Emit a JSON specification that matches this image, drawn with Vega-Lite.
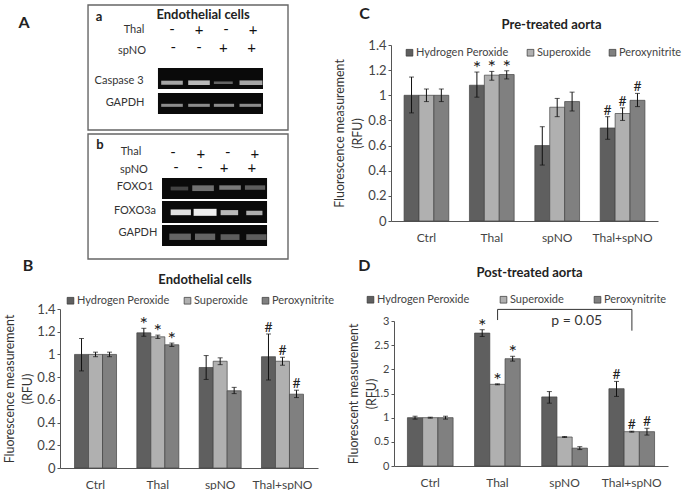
{
"$schema":"https://vega.github.io/schema/vega-lite/v6.json",
"padding":{"left":3,"top":4,"right":0,"bottom":0},
"background":"white",
"config":{"font":"Lato","view":{"stroke":null},"axis":{"labelColor":"#444","titleColor":"#333","domainColor":"#555","tickColor":"#555","grid":false,"titleFontWeight":"normal","labelOverlap":false},"legend":{"labelColor":"#444"},"title":{"color":"#222","fontWeight":"bold","fontSize":13},"text":{"font":"Lato"}},
"datasets":{
"B":[
{"group":"Ctrl","series":"Hydrogen Peroxide","value":1.0,"low":0.855,"high":1.14,"sig":""},
{"group":"Ctrl","series":"Superoxide","value":1.0,"low":0.98,"high":1.02,"sig":""},
{"group":"Ctrl","series":"Peroxynitrite","value":1.0,"low":0.98,"high":1.02,"sig":""},
{"group":"Thal","series":"Hydrogen Peroxide","value":1.19,"low":1.16,"high":1.23,"sig":"*"},
{"group":"Thal","series":"Superoxide","value":1.155,"low":1.14,"high":1.17,"sig":"*"},
{"group":"Thal","series":"Peroxynitrite","value":1.085,"low":1.07,"high":1.10,"sig":"*"},
{"group":"spNO","series":"Hydrogen Peroxide","value":0.885,"low":0.78,"high":0.99,"sig":""},
{"group":"spNO","series":"Superoxide","value":0.94,"low":0.91,"high":0.97,"sig":""},
{"group":"spNO","series":"Peroxynitrite","value":0.68,"low":0.655,"high":0.71,"sig":""},
{"group":"Thal+spNO","series":"Hydrogen Peroxide","value":0.98,"low":0.775,"high":1.18,"sig":"#"},
{"group":"Thal+spNO","series":"Superoxide","value":0.94,"low":0.905,"high":0.975,"sig":"#"},
{"group":"Thal+spNO","series":"Peroxynitrite","value":0.65,"low":0.62,"high":0.685,"sig":"#"}],
"C":[
{"group":"Ctrl","series":"Hydrogen Peroxide","value":1.0,"low":0.86,"high":1.145,"sig":""},
{"group":"Ctrl","series":"Superoxide","value":1.0,"low":0.95,"high":1.05,"sig":""},
{"group":"Ctrl","series":"Peroxynitrite","value":1.0,"low":0.95,"high":1.05,"sig":""},
{"group":"Thal","series":"Hydrogen Peroxide","value":1.08,"low":0.985,"high":1.185,"sig":"*"},
{"group":"Thal","series":"Superoxide","value":1.16,"low":1.12,"high":1.19,"sig":"*"},
{"group":"Thal","series":"Peroxynitrite","value":1.165,"low":1.13,"high":1.195,"sig":"*"},
{"group":"spNO","series":"Hydrogen Peroxide","value":0.6,"low":0.445,"high":0.75,"sig":""},
{"group":"spNO","series":"Superoxide","value":0.905,"low":0.83,"high":0.975,"sig":""},
{"group":"spNO","series":"Peroxynitrite","value":0.95,"low":0.875,"high":1.025,"sig":""},
{"group":"Thal+spNO","series":"Hydrogen Peroxide","value":0.74,"low":0.65,"high":0.83,"sig":"#"},
{"group":"Thal+spNO","series":"Superoxide","value":0.855,"low":0.80,"high":0.90,"sig":"#"},
{"group":"Thal+spNO","series":"Peroxynitrite","value":0.96,"low":0.91,"high":1.015,"sig":"#"}],
"D":[
{"group":"Ctrl","series":"Hydrogen Peroxide","value":1.0,"low":0.97,"high":1.03,"sig":""},
{"group":"Ctrl","series":"Superoxide","value":1.0,"low":0.99,"high":1.01,"sig":""},
{"group":"Ctrl","series":"Peroxynitrite","value":1.0,"low":0.97,"high":1.03,"sig":""},
{"group":"Thal","series":"Hydrogen Peroxide","value":2.75,"low":2.68,"high":2.82,"sig":"*"},
{"group":"Thal","series":"Superoxide","value":1.69,"low":1.68,"high":1.70,"sig":"*"},
{"group":"Thal","series":"Peroxynitrite","value":2.22,"low":2.17,"high":2.27,"sig":"*"},
{"group":"spNO","series":"Hydrogen Peroxide","value":1.43,"low":1.3,"high":1.54,"sig":""},
{"group":"spNO","series":"Superoxide","value":0.6,"low":0.59,"high":0.61,"sig":""},
{"group":"spNO","series":"Peroxynitrite","value":0.37,"low":0.34,"high":0.4,"sig":""},
{"group":"Thal+spNO","series":"Hydrogen Peroxide","value":1.6,"low":1.44,"high":1.75,"sig":"#"},
{"group":"Thal+spNO","series":"Superoxide","value":0.71,"low":0.70,"high":0.72,"sig":"#"},
{"group":"Thal+spNO","series":"Peroxynitrite","value":0.71,"low":0.64,"high":0.78,"sig":"#"}],
"boxes":[{"l0":-2.11,"l1":5.296,"r0":0,"r1":9.84},{"l0":-2.11,"l1":5.296,"r0":10.16,"r1":20}],
"gels":[
{"l0":0.48,"l1":4.37,"r0":4.96,"r1":6.61},
{"l0":0.48,"l1":4.37,"r0":6.93,"r1":8.58},
{"l0":0.63,"l1":4.52,"r0":13.62,"r1":15.28},
{"l0":0.63,"l1":4.52,"r0":15.43,"r1":17.17},
{"l0":0.63,"l1":4.52,"r0":17.32,"r1":18.98}],
"bands":[
{"l0":0.6,"l1":1.4,"r0":5.96,"r1":6.28,"v":0.72},
{"l0":1.6,"l1":2.4,"r0":5.94,"r1":6.3,"v":0.8},
{"l0":2.55,"l1":3.25,"r0":6.02,"r1":6.22,"v":0.45},
{"l0":3.5,"l1":4.35,"r0":5.94,"r1":6.3,"v":0.72},
{"l0":0.6,"l1":1.4,"r0":7.78,"r1":8.02,"v":0.62},
{"l0":1.6,"l1":2.4,"r0":7.78,"r1":8.02,"v":0.62},
{"l0":2.55,"l1":3.3,"r0":7.78,"r1":8.02,"v":0.62},
{"l0":3.5,"l1":4.3,"r0":7.78,"r1":8.02,"v":0.62},
{"l0":0.95,"l1":1.6,"r0":14.3,"r1":14.6,"v":0.3},
{"l0":1.75,"l1":2.55,"r0":14.2,"r1":14.65,"v":0.5},
{"l0":2.75,"l1":3.55,"r0":14.2,"r1":14.55,"v":0.55},
{"l0":3.7,"l1":4.45,"r0":14.2,"r1":14.55,"v":0.42},
{"l0":0.95,"l1":1.7,"r0":16.1,"r1":16.55,"v":0.95},
{"l0":1.8,"l1":2.65,"r0":16.05,"r1":16.6,"v":1.0},
{"l0":2.8,"l1":3.45,"r0":16.15,"r1":16.55,"v":0.8},
{"l0":3.75,"l1":4.35,"r0":16.2,"r1":16.55,"v":0.75},
{"l0":0.9,"l1":1.7,"r0":18.0,"r1":18.5,"v":0.45},
{"l0":1.85,"l1":2.6,"r0":18.0,"r1":18.5,"v":0.45},
{"l0":2.8,"l1":3.5,"r0":18.05,"r1":18.5,"v":0.42},
{"l0":3.75,"l1":4.5,"r0":18.05,"r1":18.5,"v":0.42}],
"labels":[
{"t":"Thal","l":-0.41,"r":1.97},{"t":"spNO","l":-0.48,"r":3.62},
{"t":"Caspase 3","l":-0.96,"r":5.98},{"t":"GAPDH","l":-0.74,"r":7.72},
{"t":"Thal","l":-0.52,"r":11.57},{"t":"spNO","l":-0.41,"r":12.99},
{"t":"FOXO1","l":-0.37,"r":14.33},{"t":"FOXO3a","l":-0.37,"r":16.22},{"t":"GAPDH","l":-0.26,"r":17.95}],
"signs":[
{"t":"-","l":1,"r":1.9},{"t":"+","l":2,"r":2},{"t":"-","l":3,"r":1.9},{"t":"+","l":4,"r":2},
{"t":"-","l":1.05,"r":3.3},{"t":"-","l":2,"r":3.3},{"t":"+","l":2.9,"r":3.35},{"t":"+","l":3.95,"r":3.35},
{"t":"-","l":1.04,"r":11.6},{"t":"+","l":2.07,"r":11.7},{"t":"-","l":3.07,"r":11.6},{"t":"+","l":4.07,"r":11.7},
{"t":"-","l":1.15,"r":12.76},{"t":"-","l":2.04,"r":12.76},{"t":"+","l":2.93,"r":12.8},{"t":"+","l":3.96,"r":12.8}],
"heads":[
{"t":"a","l":-1.7,"r":0.94},{"t":"b","l":-1.67,"r":11.02},{"t":"Endothelial cells","l":2.15,"r":0.79}],
"letters":[{"t":"A","l":-4.48,"r":1.42},{"t":"B","l":-4.33,"r":20.55}],
"bracket":[
{"group":"Thal","y":3.02,"i":1},{"group":"Thal","y":3.24,"i":2},{"group":"Thal+spNO","y":3.24,"i":3},{"group":"Thal+spNO","y":2.8,"i":4}]
},
"bounds":"full",
"spacing":-2,
"resolve":{"scale":{"color":"independent","xOffset":"independent"},"legend":{"color":"independent"}},
"hconcat":[
{"bounds":"flush","spacing":50,
"resolve":{"scale":{"color":"independent","xOffset":"independent"},"legend":{"color":"independent"}},
"vconcat":[
 {"width":258,"height":214,
  "encoding":{
   "x":{"field":"l0","type":"quantitative","scale":{"domain":[-3.148,6.407],"nice":false,"zero":false},"axis":null},
   "y":{"field":"r0","type":"quantitative","scale":{"domain":[3.15,20],"reverse":true,"nice":false,"zero":false},"axis":null}},
  "layer":[
   {"data":{"name":"boxes"},"mark":{"type":"rect","fill":"white","stroke":"#666","strokeWidth":1.4},"encoding":{"x2":{"field":"l1"},"y2":{"field":"r1"}}},
   {"data":{"name":"gels"},"mark":{"type":"rect","fill":"#0a0a0a"},"encoding":{"x2":{"field":"l1"},"y2":{"field":"r1"}}},
   {"data":{"name":"bands"},"mark":{"type":"rect"},"encoding":{"x2":{"field":"l1"},"y2":{"field":"r1"},"color":{"field":"v","type":"quantitative","scale":{"domain":[0,1],"range":["#000000","#eeeeee"]},"legend":null}}},
   {"data":{"name":"labels"},"mark":{"type":"text","fontSize":11,"color":"#333"},"encoding":{"x":{"field":"l","type":"quantitative","axis":null},"y":{"field":"r","type":"quantitative","axis":null},"text":{"field":"t"}}},
   {"data":{"name":"signs"},"mark":{"type":"text","fontSize":15,"color":"#111"},"encoding":{"x":{"field":"l","type":"quantitative","axis":null},"y":{"field":"r","type":"quantitative","axis":null},"text":{"field":"t"}}},
   {"data":{"name":"heads"},"mark":{"type":"text","fontSize":13,"fontWeight":"bold","color":"#222"},"encoding":{"x":{"field":"l","type":"quantitative","axis":null},"y":{"field":"r","type":"quantitative","axis":null},"text":{"field":"t"}}},
   {"data":{"name":"letters"},"mark":{"type":"text","fontSize":16,"fontWeight":"bold","color":"#222"},"encoding":{"x":{"field":"l","type":"quantitative","axis":null},"y":{"field":"r","type":"quantitative","axis":null},"text":{"field":"t"}}}
  ]},
 {"width":258,"height":159,"data":{"name":"B"},
  "title":{"text":"Endothelial cells","anchor":"middle","dx":16,"offset":8},
  "encoding":{
   "x":{"field":"group","type":"nominal","sort":null,"scale":{"domain":["Ctrl","Thal","spNO","Thal+spNO"],"paddingInner":0.326,"paddingOuter":0.233},"axis":{"title":null,"labelAngle":0,"labelFontSize":12,"ticks":false,"labelPadding":11}},
   "xOffset":{"field":"series","type":"nominal","sort":null,"scale":{"domain":["Hydrogen Peroxide","Superoxide","Peroxynitrite"],"paddingInner":0,"paddingOuter":0}}},
  "layer":[
   {"mark":{"type":"bar","stroke":"#444","strokeWidth":0.7},"encoding":{
    "y":{"field":"value","type":"quantitative","scale":{"domain":[0,1.4],"nice":false},"axis":{"values":[0,0.2,0.4,0.6,0.8,1,1.2,1.4],"labelOverlap":false,"format":"~g","title":["Fluorescence measurement","(RFU)"],"titleFontSize":12.4,"titleLineHeight":18,"titlePadding":2,"labelFontSize":13,"tickSize":3}},
    "color":{"field":"series","type":"nominal","sort":null,"scale":{"domain":["Hydrogen Peroxide","Superoxide","Peroxynitrite"],"range":["#5f5f5f","#b0b0b0","#808080"]},"legend":{"orient":"none","legendX":5,"legendY":-14,"direction":"horizontal","columns":3,"title":null,"symbolType":"square","symbolSize":45,"labelFontSize":11,"labelOffset":1,"columnPadding":12,"symbolStrokeColor":"#333","symbolStrokeWidth":0.7}}}},
   {"mark":{"type":"rule","color":"#111","strokeWidth":1},"encoding":{"y":{"field":"low","type":"quantitative","axis":{"values":[0,0.2,0.4,0.6,0.8,1,1.2,1.4],"labelOverlap":false,"format":"~g","title":["Fluorescence measurement","(RFU)"],"titleFontSize":12.4,"titleLineHeight":18,"titlePadding":2,"labelFontSize":13,"tickSize":3}},"y2":{"field":"high"}}},
   {"mark":{"type":"tick","color":"#111","size":5,"thickness":1},"encoding":{"y":{"field":"low","type":"quantitative","axis":{"values":[0,0.2,0.4,0.6,0.8,1,1.2,1.4],"labelOverlap":false,"format":"~g","title":["Fluorescence measurement","(RFU)"],"titleFontSize":12.4,"titleLineHeight":18,"titlePadding":2,"labelFontSize":13,"tickSize":3}}}},
   {"mark":{"type":"tick","color":"#111","size":5,"thickness":1},"encoding":{"y":{"field":"high","type":"quantitative","axis":{"values":[0,0.2,0.4,0.6,0.8,1,1.2,1.4],"labelOverlap":false,"format":"~g","title":["Fluorescence measurement","(RFU)"],"titleFontSize":12.4,"titleLineHeight":18,"titlePadding":2,"labelFontSize":13,"tickSize":3}}}},
   {"transform":[{"filter":"datum.sig == '#'"}],"mark":{"type":"text","fontSize":14,"color":"#222","baseline":"bottom","dy":1},"encoding":{"y":{"field":"high","type":"quantitative","axis":{"values":[0,0.2,0.4,0.6,0.8,1,1.2,1.4],"labelOverlap":false,"format":"~g","title":["Fluorescence measurement","(RFU)"],"titleFontSize":12.4,"titleLineHeight":18,"titlePadding":2,"labelFontSize":13,"tickSize":3}},"text":{"field":"sig"}}},
   {"transform":[{"filter":"datum.sig == '*'"}],"mark":{"type":"text","fontSize":20,"color":"#222","baseline":"bottom","dy":7},"encoding":{"y":{"field":"high","type":"quantitative","axis":{"values":[0,0.2,0.4,0.6,0.8,1,1.2,1.4],"labelOverlap":false,"format":"~g","title":["Fluorescence measurement","(RFU)"],"titleFontSize":12.4,"titleLineHeight":18,"titlePadding":2,"labelFontSize":13,"tickSize":3}},"text":{"field":"sig"}}}
  ]}
]},
{"bounds":"flush","spacing":100,
"resolve":{"scale":{"color":"independent","xOffset":"independent"},"legend":{"color":"independent"}},
"vconcat":[
 {"width":267,"height":176,"data":{"name":"C"},
  "title":{"text":"Pre-treated aorta","anchor":"middle","dx":27,"offset":-26},
  "encoding":{
   "x":{"field":"group","type":"nominal","sort":null,"scale":{"domain":["Ctrl","Thal","spNO","Thal+spNO"],"paddingInner":0.316,"paddingOuter":0.2},"axis":{"title":null,"labelAngle":0,"labelFontSize":12,"ticks":false,"labelPadding":11}},
   "xOffset":{"field":"series","type":"nominal","sort":null,"scale":{"domain":["Hydrogen Peroxide","Superoxide","Peroxynitrite"],"paddingInner":0,"paddingOuter":0}}},
  "layer":[
   {"mark":{"type":"bar","stroke":"#444","strokeWidth":0.7},"encoding":{
    "y":{"field":"value","type":"quantitative","scale":{"domain":[0,1.4],"nice":false},"axis":{"values":[0,0.2,0.4,0.6,0.8,1,1.2,1.4],"labelOverlap":false,"format":"~g","title":["Fluorescence measurement","(RFU)"],"titleFontSize":12.4,"titleLineHeight":18,"titlePadding":3,"labelFontSize":13,"tickSize":3}},
    "color":{"field":"series","type":"nominal","sort":null,"scale":{"domain":["Hydrogen Peroxide","Superoxide","Peroxynitrite"],"range":["#5f5f5f","#b0b0b0","#808080"]},"legend":{"orient":"none","legendX":13,"legendY":2,"direction":"horizontal","columns":3,"title":null,"symbolType":"square","symbolSize":45,"labelFontSize":11,"labelOffset":1,"columnPadding":16,"symbolStrokeColor":"#333","symbolStrokeWidth":0.7}}}},
   {"mark":{"type":"rule","color":"#111","strokeWidth":1},"encoding":{"y":{"field":"low","type":"quantitative","axis":{"values":[0,0.2,0.4,0.6,0.8,1,1.2,1.4],"labelOverlap":false,"format":"~g","title":["Fluorescence measurement","(RFU)"],"titleFontSize":12.4,"titleLineHeight":18,"titlePadding":3,"labelFontSize":13,"tickSize":3}},"y2":{"field":"high"}}},
   {"mark":{"type":"tick","color":"#111","size":5,"thickness":1},"encoding":{"y":{"field":"low","type":"quantitative","axis":{"values":[0,0.2,0.4,0.6,0.8,1,1.2,1.4],"labelOverlap":false,"format":"~g","title":["Fluorescence measurement","(RFU)"],"titleFontSize":12.4,"titleLineHeight":18,"titlePadding":3,"labelFontSize":13,"tickSize":3}}}},
   {"mark":{"type":"tick","color":"#111","size":5,"thickness":1},"encoding":{"y":{"field":"high","type":"quantitative","axis":{"values":[0,0.2,0.4,0.6,0.8,1,1.2,1.4],"labelOverlap":false,"format":"~g","title":["Fluorescence measurement","(RFU)"],"titleFontSize":12.4,"titleLineHeight":18,"titlePadding":3,"labelFontSize":13,"tickSize":3}}}},
   {"transform":[{"filter":"datum.sig == '#'"}],"mark":{"type":"text","fontSize":14,"color":"#222","baseline":"bottom","dy":1},"encoding":{"y":{"field":"high","type":"quantitative","axis":{"values":[0,0.2,0.4,0.6,0.8,1,1.2,1.4],"labelOverlap":false,"format":"~g","title":["Fluorescence measurement","(RFU)"],"titleFontSize":12.4,"titleLineHeight":18,"titlePadding":3,"labelFontSize":13,"tickSize":3}},"text":{"field":"sig"}}},
   {"transform":[{"filter":"datum.sig == '*'"}],"mark":{"type":"text","fontSize":20,"color":"#222","baseline":"bottom","dy":7},"encoding":{"y":{"field":"high","type":"quantitative","axis":{"values":[0,0.2,0.4,0.6,0.8,1,1.2,1.4],"labelOverlap":false,"format":"~g","title":["Fluorescence measurement","(RFU)"],"titleFontSize":12.4,"titleLineHeight":18,"titlePadding":3,"labelFontSize":13,"tickSize":3}},"text":{"field":"sig"}}},
   {"data":{"values":[{"t":"C","group":"Ctrl","y":1.647}]},"mark":{"type":"text","fontSize":16,"fontWeight":"bold","color":"#222","dx":-62},"encoding":{"xOffset":{"value":22.5},"y":{"field":"y","type":"quantitative","axis":{"values":[0,0.2,0.4,0.6,0.8,1,1.2,1.4],"labelOverlap":false,"format":"~g","title":["Fluorescence measurement","(RFU)"],"titleFontSize":12.4,"titleLineHeight":18,"titlePadding":3,"labelFontSize":13,"tickSize":3}},"text":{"field":"t"}}}
  ]},
 {"width":277,"height":145,"data":{"name":"D"},
  "title":{"text":"Post-treated aorta","anchor":"middle","dx":0,"offset":-22},
  "encoding":{
   "x":{"field":"group","type":"nominal","sort":null,"scale":{"domain":["Ctrl","Thal","spNO","Thal+spNO"],"range":[3,277],"paddingInner":0.32,"paddingOuter":0.2},"axis":{"title":null,"labelAngle":0,"labelFontSize":12,"ticks":false,"labelPadding":11}},
   "xOffset":{"field":"series","type":"nominal","sort":null,"scale":{"domain":["Hydrogen Peroxide","Superoxide","Peroxynitrite"],"paddingInner":0,"paddingOuter":0}}},
  "layer":[
   {"mark":{"type":"bar","stroke":"#444","strokeWidth":0.7},"encoding":{
    "y":{"field":"value","type":"quantitative","scale":{"domain":[0,3],"nice":false},"axis":{"offset":-3,"values":[0,0.5,1,1.5,2,2.5,3],"labelOverlap":false,"format":"~g","title":["Fluorescent measurement","(RFU)"],"titleFontSize":12.4,"titleLineHeight":18,"titlePadding":-5,"labelFontSize":11,"tickSize":3}},
    "color":{"field":"series","type":"nominal","sort":null,"scale":{"domain":["Hydrogen Peroxide","Superoxide","Peroxynitrite"],"range":["#5f5f5f","#b0b0b0","#808080"]},"legend":{"orient":"none","legendX":-26,"legendY":-27,"direction":"horizontal","columns":3,"title":null,"symbolType":"square","symbolSize":45,"labelFontSize":11,"labelOffset":1,"columnPadding":28,"symbolStrokeColor":"#333","symbolStrokeWidth":0.7}}}},
   {"mark":{"type":"rule","color":"#111","strokeWidth":1},"encoding":{"y":{"field":"low","type":"quantitative","axis":{"offset":-3,"values":[0,0.5,1,1.5,2,2.5,3],"labelOverlap":false,"format":"~g","title":["Fluorescent measurement","(RFU)"],"titleFontSize":12.4,"titleLineHeight":18,"titlePadding":-5,"labelFontSize":11,"tickSize":3}},"y2":{"field":"high"}}},
   {"mark":{"type":"tick","color":"#111","size":5,"thickness":1},"encoding":{"y":{"field":"low","type":"quantitative","axis":{"offset":-3,"values":[0,0.5,1,1.5,2,2.5,3],"labelOverlap":false,"format":"~g","title":["Fluorescent measurement","(RFU)"],"titleFontSize":12.4,"titleLineHeight":18,"titlePadding":-5,"labelFontSize":11,"tickSize":3}}}},
   {"mark":{"type":"tick","color":"#111","size":5,"thickness":1},"encoding":{"y":{"field":"high","type":"quantitative","axis":{"offset":-3,"values":[0,0.5,1,1.5,2,2.5,3],"labelOverlap":false,"format":"~g","title":["Fluorescent measurement","(RFU)"],"titleFontSize":12.4,"titleLineHeight":18,"titlePadding":-5,"labelFontSize":11,"tickSize":3}}}},
   {"transform":[{"filter":"datum.sig == '#'"}],"mark":{"type":"text","fontSize":14,"color":"#222","baseline":"bottom","dy":1},"encoding":{"y":{"field":"high","type":"quantitative","axis":{"offset":-3,"values":[0,0.5,1,1.5,2,2.5,3],"labelOverlap":false,"format":"~g","title":["Fluorescent measurement","(RFU)"],"titleFontSize":12.4,"titleLineHeight":18,"titlePadding":-5,"labelFontSize":11,"tickSize":3}},"text":{"field":"sig"}}},
   {"transform":[{"filter":"datum.sig == '*'"}],"mark":{"type":"text","fontSize":20,"color":"#222","baseline":"bottom","dy":7},"encoding":{"y":{"field":"high","type":"quantitative","axis":{"offset":-3,"values":[0,0.5,1,1.5,2,2.5,3],"labelOverlap":false,"format":"~g","title":["Fluorescent measurement","(RFU)"],"titleFontSize":12.4,"titleLineHeight":18,"titlePadding":-5,"labelFontSize":11,"tickSize":3}},"text":{"field":"sig"}}},
   {"data":{"name":"bracket"},"mark":{"type":"line","color":"#333","strokeWidth":1,"clip":false},"encoding":{"xOffset":{"value":23},"y":{"field":"y","type":"quantitative","axis":{"offset":-3,"values":[0,0.5,1,1.5,2,2.5,3],"labelOverlap":false,"format":"~g","title":["Fluorescent measurement","(RFU)"],"titleFontSize":12.4,"titleLineHeight":18,"titlePadding":-5,"labelFontSize":11,"tickSize":3}},"order":{"field":"i","type":"quantitative"}}},
   {"data":{"values":[{"t":"p = 0.05","group":"spNO","y":3.0}]},"mark":{"type":"text","fontSize":14,"color":"#333","dx":12},"encoding":{"xOffset":{"value":23},"y":{"field":"y","type":"quantitative","axis":{"offset":-3,"values":[0,0.5,1,1.5,2,2.5,3],"labelOverlap":false,"format":"~g","title":["Fluorescent measurement","(RFU)"],"titleFontSize":12.4,"titleLineHeight":18,"titlePadding":-5,"labelFontSize":11,"tickSize":3}},"text":{"field":"t"}}},
   {"data":{"values":[{"t":"D","group":"Ctrl","y":4.14}]},"mark":{"type":"text","fontSize":16,"fontWeight":"bold","color":"#222","dx":-66},"encoding":{"xOffset":{"value":23},"y":{"field":"y","type":"quantitative","axis":{"offset":-3,"values":[0,0.5,1,1.5,2,2.5,3],"labelOverlap":false,"format":"~g","title":["Fluorescent measurement","(RFU)"],"titleFontSize":12.4,"titleLineHeight":18,"titlePadding":-5,"labelFontSize":11,"tickSize":3}},"text":{"field":"t"}}}
  ]}
]}
]}
